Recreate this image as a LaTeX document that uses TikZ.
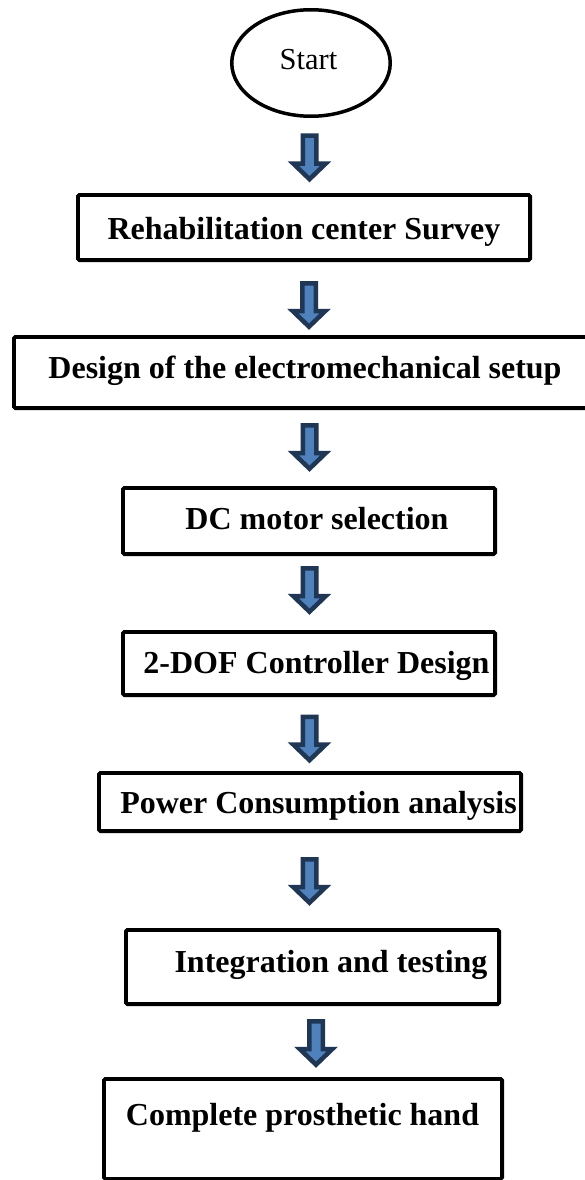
\documentclass[tikz,border=0pt]{standalone}
\usepackage{fontspec}
\setmainfont{Liberation Serif}
\usetikzlibrary{shapes.geometric}
\definecolor{arrowline}{HTML}{1F3654}
\definecolor{arrowfill}{HTML}{4F81BD}
\begin{document}
\begin{tikzpicture}[x=1pt,y=-1pt,
  stepbox/.style={draw=black, line width=3.8pt, rounded corners=1.5pt, rectangle, inner sep=0pt},
  steptext/.style={font=\fontsize{32}{36}\selectfont\bfseries, inner sep=0pt, anchor=base},
  startshape/.style={draw=black, line width=3.5pt, ellipse, inner sep=0pt},
  blockdown/.pic={\draw[line width=4.5pt, draw=arrowline, fill=arrowfill, line join=miter, miter limit=10]
     (-6.75,-22.25) -- (6.75,-22.25) -- (6.75,5.5) -- (16.3,5.5) -- (0,21.2) -- (-16.3,5.5) -- (-6.75,5.5) -- cycle;}
]
\useasboundingbox (0,0) rectangle (585,1180);
\fill[white] (0,0) rectangle (585,1180);

% start
\node[startshape, minimum width=158.5pt, minimum height=106.5pt] (start) at (311,63) {};
\node[font=\fontsize{30.5}{34}\selectfont, inner sep=0pt, anchor=base] (tstart) at (308.5,70) {Start};

% boxes
\node[stepbox, minimum width=452.2pt, minimum height=65.2pt] (b1) at (304,227.5) {};
\node[stepbox, minimum width=586pt, minimum height=71.2pt] (b2) at (306.9,372.5) {};
\node[stepbox, minimum width=372.2pt, minimum height=66.2pt] (b3) at (309,521) {};
\node[stepbox, minimum width=372.2pt, minimum height=63.2pt] (b4) at (309,663.5) {};
\node[stepbox, minimum width=422.2pt, minimum height=58.2pt] (b5) at (310,802) {};
\node[stepbox, minimum width=373.2pt, minimum height=74.2pt] (b6) at (312.5,967) {};
\node[stepbox, minimum width=398.2pt, minimum height=100pt] (b7) at (303,1128.9) {};

% texts
\node[steptext] (t1) at (304,239) {Rehabilitation center Survey};
\node[steptext] (t2) at (305,378) {Design of the electromechanical setup};
\node[steptext] (t3) at (317,529) {DC motor selection};
\node[steptext] (t4) at (316.5,673) {2-DOF Controller Design};
\node[steptext] (t5) at (318.5,813) {Power Consumption analysis};
\node[steptext] (t6) at (331,972) {Integration and testing};
\node[steptext] (t7) at (302.5,1125) {Complete prosthetic hand};

% block arrows between the steps
\coordinate (a1) at (309.5,158);
\coordinate (a2) at (309,305.5);
\coordinate (a3) at (309.5,447.5);
\coordinate (a4) at (309.5,590.5);
\coordinate (a5) at (309.5,739);
\coordinate (a6) at (309.5,881.5);
\coordinate (a7) at (316,1043.5);
\foreach \a in {a1,a2,a3,a4,a5,a6,a7} { \pic at (\a) {blockdown}; }
\end{tikzpicture}
\end{document}
